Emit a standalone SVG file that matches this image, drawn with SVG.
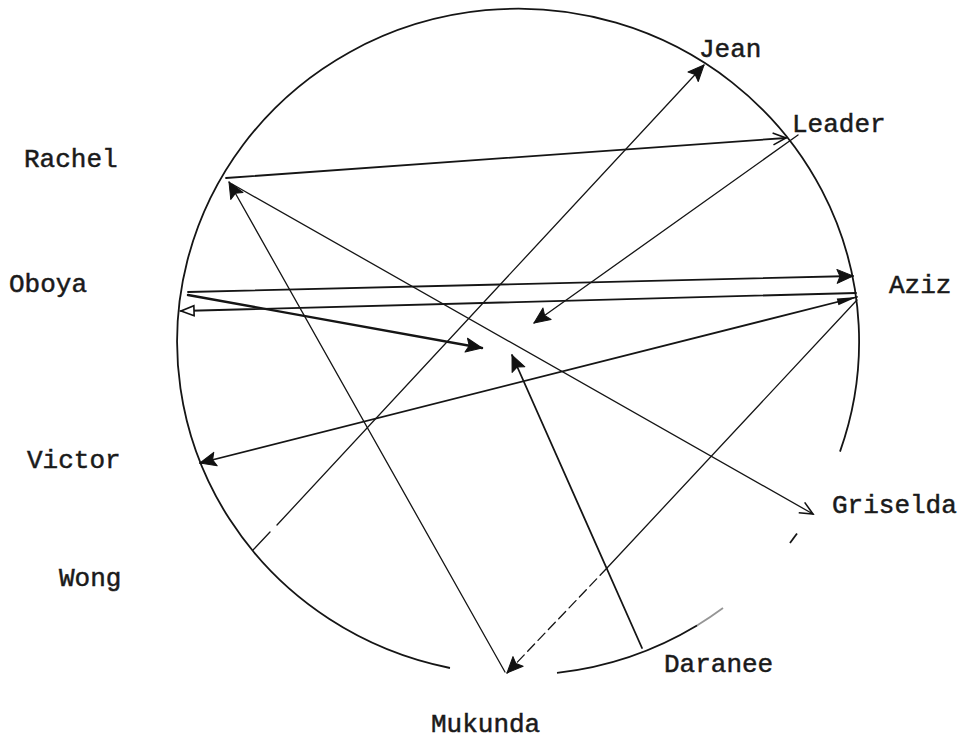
<svg xmlns="http://www.w3.org/2000/svg" width="965" height="740" viewBox="0 0 965 740">
<style>
  .lbl { font-family: "Liberation Mono", "Courier New", monospace; font-size: 26px; fill: #1a1a1a; stroke: #1a1a1a; stroke-width: 0.5; }
  .ring { fill: none; stroke: #151515; stroke-width: 1.8; }
  .c { fill: none; stroke: #151515; stroke-linecap: round; }
  .w1 { stroke-width: 1.3; }
  .w2 { stroke-width: 1.8; }
  .w3 { stroke-width: 2.4; }
  .mf { marker-end: url(#filled); }
  .mo { marker-end: url(#openv); }
  .mt { marker-end: url(#opentri); }
</style>
<defs>
  <marker id="filled" markerUnits="userSpaceOnUse" markerWidth="18" markerHeight="16" refX="16" refY="7" orient="auto" overflow="visible">
    <path d="M0,0 L16,7 L0,14 L3,7 z" fill="#111" stroke="#111" stroke-width="1" stroke-linejoin="round"/>
  </marker>
  <marker id="filledS" markerUnits="userSpaceOnUse" markerWidth="22" markerHeight="10" refX="20" refY="5" orient="auto-start-reverse" overflow="visible">
    <path d="M0,1.5 L20,5 L0,8.5 z" fill="#111"/>
  </marker>
  <marker id="openv" markerUnits="userSpaceOnUse" markerWidth="16" markerHeight="14" refX="14" refY="7" orient="auto" overflow="visible">
    <path d="M1,1 L14,7 L1,13" fill="none" stroke="#111" stroke-width="1.6"/>
  </marker>
  <marker id="opentri" markerUnits="userSpaceOnUse" markerWidth="16" markerHeight="14" refX="14" refY="7" orient="auto" overflow="visible">
    <path d="M1,2 L14,7 L1,12 z" fill="#fff" stroke="#111" stroke-width="1.6"/>
  </marker>
</defs>
<rect width="965" height="740" fill="#fff"/>

<g id="circle">
  <path class="ring" d="M450,668 A341,333 0 1 1 840,451.6"/>
  <path class="ring" d="M797,533.5 L790,543" stroke-width="1.5"/>
  <path class="ring" d="M723,608 A341,333 0 0 1 697,625.4" stroke-opacity="0.45" stroke-width="1.5"/>
  <path class="ring" d="M697,625.4 A341,333 0 0 1 557,672.8"/>
</g>

<g id="connectors">
  <path id="wong-jean" class="c w1 mf" d="M253,550 L270,532 M277,525 L704,65"/>
  <path id="rachel-leader" class="c w2 mo" d="M226,178 L786,138"/>
  <path id="leader-center" class="c w1 mf" d="M798,135 L534,323"/>
  <path id="rachel-griselda" class="c w1 mo" d="M232,184 L813,514"/>
  <path id="mukunda-rachel" class="c w1 mf" d="M505,672 L229,182"/>
  <path id="oboya-aziz" class="c w2 mf" d="M188,292 L853,276"/>
  <path id="aziz-oboya" class="c w2 mt" d="M856,293 L181,311"/>
  <path id="oboya-center" class="c w3 mf" d="M188,295 L482,348"/>
  <path id="aziz-victor" class="c w2 mf" d="M857,297 L200,463" marker-start="url(#filledS)"/>
  <path id="aziz-mukunda-a" class="c w1" d="M857,300 L607,568"/>
  <path id="aziz-mukunda-b" class="c w1 mf" d="M607,568 L507,673" stroke-dasharray="10 5"/>
  <path id="daranee-center" class="c w2 mf" d="M642,648 L512,355"/>
</g>

<g id="node-jean"><text class="lbl" x="699" y="57">Jean</text></g>
<g id="node-leader"><text class="lbl" x="792" y="132">Leader</text></g>
<g id="node-rachel"><text class="lbl" x="24" y="167">Rachel</text></g>
<g id="node-oboya"><text class="lbl" x="9" y="292">Oboya</text></g>
<g id="node-aziz"><text class="lbl" x="889" y="293">Aziz</text></g>
<g id="node-victor"><text class="lbl" x="27" y="468">Victor</text></g>
<g id="node-wong"><text class="lbl" x="59" y="586">Wong</text></g>
<g id="node-griselda"><text class="lbl" x="832" y="513">Griselda</text></g>
<g id="node-daranee"><text class="lbl" x="664" y="672">Daranee</text></g>
<g id="node-mukunda"><text class="lbl" x="431" y="732">Mukunda</text></g>
</svg>
